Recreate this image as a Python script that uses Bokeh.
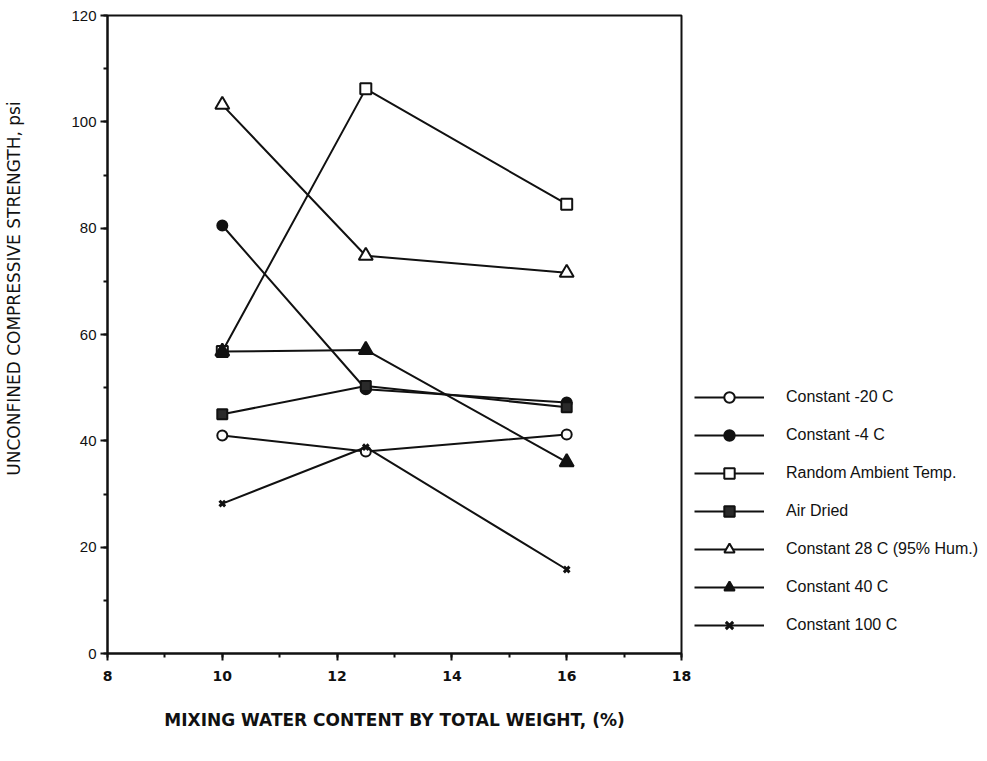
from bokeh.plotting import figure
from bokeh.models import Legend, LegendItem, SingleIntervalTicker, Range1d
from bokeh.embed import file_html
from bokeh.resources import INLINE

# ---- data ----
water_content = [10, 12.5, 16]
const_m20 = [41.0, 38.0, 41.2]
const_m4 = [80.5, 49.7, 47.2]
random_ambient = [56.8, 106.2, 84.5]
air_dried = [45.0, 50.3, 46.3]
const_28 = [103.2, 74.8, 71.6]
const_40 = [56.8, 57.1, 36.0]
const_100 = [28.2, 38.8, 15.8]

series_labels = ["Constant -20 C", "Constant -4 C", "Random Ambient Temp.",
                 "Air Dried", "Constant 28 C (95% Hum.)", "Constant 40 C",
                 "Constant 100 C"]

x_label = "MIXING WATER CONTENT BY TOTAL WEIGHT, (%)"
y_label = "UNCONFINED COMPRESSIVE STRENGTH, psi"

FONT = "Liberation Sans"
WIDE = "DejaVu Sans"
INK = "#111111"

p = figure(frame_width=574, frame_height=638, output_backend="svg",
           toolbar_location=None,
           x_range=Range1d(8, 18), y_range=Range1d(0, 120),
           min_border_left=107, min_border_right=306, min_border_top=15,
           min_border_bottom=108)
p.background_fill_color = "white"
p.border_fill_color = "white"
p.outline_line_color = INK
p.outline_line_width = 2
p.xgrid.visible = False
p.ygrid.visible = False

# axes
p.xaxis.ticker = SingleIntervalTicker(interval=2, num_minor_ticks=2)
p.yaxis.ticker = SingleIntervalTicker(interval=20, num_minor_ticks=2)
for ax in (p.xaxis[0], p.yaxis[0]):
    ax.axis_line_color = INK
    ax.axis_line_width = 2
    ax.major_tick_line_color = INK
    ax.major_tick_line_width = 2
    ax.minor_tick_line_color = INK
    ax.minor_tick_line_width = 2
    ax.major_tick_in = 0
    ax.minor_tick_in = 0
    ax.major_label_text_color = INK
    ax.axis_label_text_font = WIDE
    ax.axis_label_text_color = INK

p.xaxis.major_tick_out = 7
p.xaxis.minor_tick_out = 4
p.xaxis.major_label_text_font = WIDE
p.xaxis.major_label_text_font_size = "14px"
p.xaxis.major_label_text_font_style = "bold"
p.xaxis.major_label_standoff = 10
p.xaxis.axis_label = x_label
p.xaxis.axis_label_text_font_size = "17px"
p.xaxis.axis_label_text_font_style = "bold"
p.xaxis.axis_label_standoff = 26

p.yaxis.major_tick_out = 7
p.yaxis.minor_tick_out = 4
p.yaxis.major_label_text_font = FONT
p.yaxis.major_label_text_font_size = "15px"
p.yaxis.major_label_standoff = 4
# leading no-break spaces lift the visible title above the frame centre,
# as in the reference
p.yaxis.axis_label = "\u00a0" * 17 + y_label
p.yaxis.axis_label_text_font_size = "17px"
p.yaxis.axis_label_text_font_style = "normal"
p.yaxis.axis_label_standoff = 44

# series
styles = [
    (const_m20, "circle", 10, "white"),
    (const_m4, "circle", 10, INK),
    (random_ambient, "square", 11, "white"),
    (air_dried, "square", 10, "#2a2a2a"),
    (const_28, "triangle", 14, "white"),
    (const_40, "triangle", 14, INK),
    (const_100, "x", 8, INK),
]

items = []
for (vals, marker, size, fill), label in zip(styles, series_labels):
    ln = p.line(water_content, vals, line_color=INK, line_width=2)
    sc = p.scatter(water_content, vals, marker=marker, size=size,
                   fill_color=fill, line_color=INK,
                   line_width=3 if marker == "x" else 2)
    items.append(LegendItem(label=label, renderers=[ln, sc]))

legend = Legend(items=items, location=(13, 15),
                glyph_width=70, glyph_height=26, label_height=26,
                spacing=12, label_standoff=22, padding=4, margin=0,
                label_text_font=FONT, label_text_font_size="16px",
                label_text_color=INK, border_line_color=None,
                background_fill_alpha=0)
p.add_layout(legend, "right")

open("out.html", "w").write(file_html(p, INLINE))
